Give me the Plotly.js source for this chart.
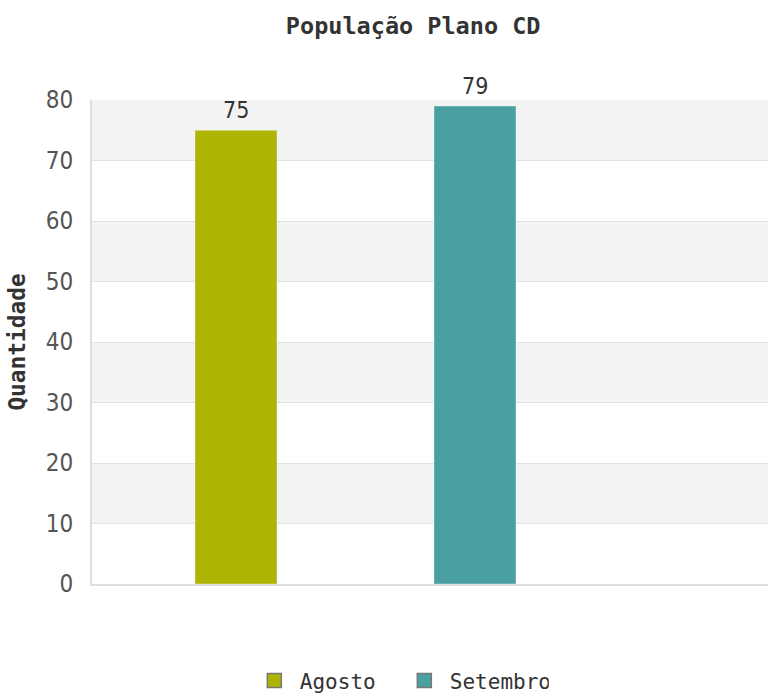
<!DOCTYPE html>
<html>
<head>
<meta charset="utf-8">
<script src="https://cdn.plot.ly/plotly-3.0.1.min.js"></script>
<style>html,body{margin:0;padding:0;background:#fff;}#chart{width:768px;height:693px;}</style>
</head>
<body>
<div id="chart"></div>
<script>
const seriesNames = ["Agosto", "Setembro"];
const seriesValues = [75, 79];
const seriesColors = ["#aeb404", "#4aa0a0"];
const seriesPositions = [0, 1];
const yTicks = [0, 10, 20, 30, 40, 50, 60, 70, 80];

const numFont = "DejaVu Sans Condensed, Liberation Sans, sans-serif";

const traces = [];
seriesNames.forEach((name, i) => {
  traces.push({
    type: "bar",
    x: [seriesPositions[i]],
    y: [seriesValues[i]],
    name: name,
    width: 0.343,
    marker: { color: seriesColors[i], line: { color: "rgba(255,255,255,0.35)", width: 1 } },
    showlegend: false,
    hoverinfo: "none"
  });
});
seriesNames.forEach((name, i) => {
  traces.push({
    type: "scatter",
    mode: "markers",
    x: [null],
    y: [null],
    name: name,
    marker: { symbol: "square", size: 14, color: seriesColors[i], line: { color: "#777", width: 1.5 } },
    showlegend: true
  });
});

const annotations = seriesValues.map((v, i) => ({
  x: seriesPositions[i], y: v, xref: "x", yref: "y",
  text: String(v), showarrow: false, yanchor: "middle", yshift: 20,
  font: { family: numFont, size: 23, color: "#333" }
}));

const shapes = [];
for (let k = 0; k < yTicks.length - 1; k++) {
  if (k % 2 === 1) {
    shapes.push({
      type: "rect", xref: "paper", yref: "y", layer: "below",
      x0: 0, x1: 1, y0: yTicks[k], y1: yTicks[k + 1],
      fillcolor: "#f3f3f3", line: { width: 0 }
    });
  }
}

const layout = {
  width: 768, height: 693,
  margin: { l: 92, r: 0, t: 100, b: 109, autoexpand: false },
  paper_bgcolor: "#fff", plot_bgcolor: "#fff",
  title: {
    text: "<b>População Plano CD</b>",
    font: { family: "DejaVu Sans Mono, monospace", size: 23.5, color: "#333" },
    x: 0.538, xanchor: "center", y: 0.963, yanchor: "middle"
  },
  xaxis: {
    range: [-0.6025, 2.226],
    showticklabels: false, showgrid: false, zeroline: false,
    showline: true, linecolor: "#dddddd", linewidth: 2,
    fixedrange: true
  },
  yaxis: {
    range: [0, 80], tickvals: yTicks,
    tickfont: { family: numFont, size: 24, color: "#555" },
    showgrid: true, gridcolor: "#e2e2e2", gridwidth: 1,
    zeroline: false, showline: true, linecolor: "#dddddd", linewidth: 2,
    ticks: "", ticklen: 0, ticklabelstandoff: 12,
    title: {
      text: "<b>Quantidade</b>",
      font: { family: "DejaVu Sans Mono, monospace", size: 22.8, color: "#333" },
      standoff: 14
    },
    fixedrange: true
  },
  annotations: annotations,
  shapes: shapes,
  showlegend: true,
  legend: {
    orientation: "h", x: 0.232, xanchor: "left", y: -0.2, yanchor: "middle",
    font: { family: "DejaVu Sans Mono, monospace", size: 21, color: "#333" },
    itemwidth: 41, entrywidth: 94, entrywidthmode: "pixels", tracegroupgap: 0
  },
  bargap: 0
};

Plotly.newPlot("chart", traces, layout, { displayModeBar: false, staticPlot: true });
</script>
</body>
</html>
